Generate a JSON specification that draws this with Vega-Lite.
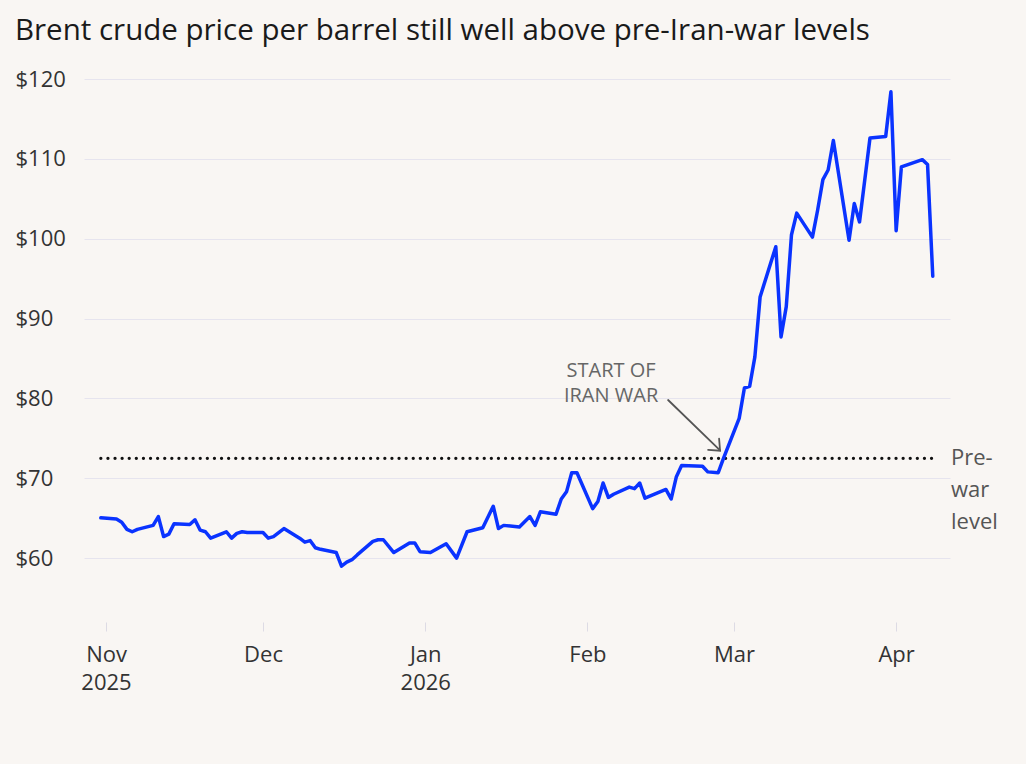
{
  "$schema": "https://vega.github.io/schema/vega-lite/v6.json",
  "autosize": {"type": "none"},
  "width": 866,
  "height": 543,
  "padding": {"left": 84, "top": 79, "right": 76, "bottom": 142},
  "background": "#f9f6f3",
  "title": {
    "text": "Brent crude price per barrel still well above pre-Iran-war levels",
    "anchor": "start",
    "frame": "group",
    "dx": -69,
    "offset": 22,
    "font": "Open Sans",
    "fontSize": 29.5,
    "fontWeight": 400,
    "color": "#1a1a1a"
  },
  "config": {
    "view": {"stroke": null},
    "axis": {"labelFont": "Open Sans", "labelFontSize": 22, "labelColor": "#333333", "title": null}
  },
  "datasets": {
    "price": [
      {"date": "2025-10-31", "value": 65.05},
      {"date": "2025-11-03", "value": 64.9},
      {"date": "2025-11-04", "value": 64.5},
      {"date": "2025-11-05", "value": 63.6},
      {"date": "2025-11-06", "value": 63.3},
      {"date": "2025-11-07", "value": 63.6},
      {"date": "2025-11-10", "value": 64.1},
      {"date": "2025-11-11", "value": 65.2},
      {"date": "2025-11-12", "value": 62.7},
      {"date": "2025-11-13", "value": 63.0},
      {"date": "2025-11-14", "value": 64.3},
      {"date": "2025-11-17", "value": 64.2},
      {"date": "2025-11-18", "value": 64.8},
      {"date": "2025-11-19", "value": 63.5},
      {"date": "2025-11-20", "value": 63.3},
      {"date": "2025-11-21", "value": 62.5},
      {"date": "2025-11-24", "value": 63.3},
      {"date": "2025-11-25", "value": 62.5},
      {"date": "2025-11-26", "value": 63.1},
      {"date": "2025-11-27", "value": 63.3},
      {"date": "2025-11-28", "value": 63.2},
      {"date": "2025-12-01", "value": 63.2},
      {"date": "2025-12-02", "value": 62.5},
      {"date": "2025-12-03", "value": 62.7},
      {"date": "2025-12-04", "value": 63.2},
      {"date": "2025-12-05", "value": 63.7},
      {"date": "2025-12-08", "value": 62.5},
      {"date": "2025-12-09", "value": 62.0},
      {"date": "2025-12-10", "value": 62.2},
      {"date": "2025-12-11", "value": 61.3},
      {"date": "2025-12-12", "value": 61.1},
      {"date": "2025-12-15", "value": 60.7},
      {"date": "2025-12-16", "value": 59.0},
      {"date": "2025-12-17", "value": 59.5},
      {"date": "2025-12-18", "value": 59.8},
      {"date": "2025-12-19", "value": 60.4},
      {"date": "2025-12-22", "value": 62.1},
      {"date": "2025-12-23", "value": 62.3},
      {"date": "2025-12-24", "value": 62.3},
      {"date": "2025-12-26", "value": 60.7},
      {"date": "2025-12-29", "value": 61.9},
      {"date": "2025-12-30", "value": 61.9},
      {"date": "2025-12-31", "value": 60.8},
      {"date": "2026-01-02", "value": 60.7},
      {"date": "2026-01-05", "value": 61.8},
      {"date": "2026-01-07", "value": 60.0},
      {"date": "2026-01-09", "value": 63.3},
      {"date": "2026-01-12", "value": 63.8},
      {"date": "2026-01-14", "value": 66.5},
      {"date": "2026-01-15", "value": 63.7},
      {"date": "2026-01-16", "value": 64.1},
      {"date": "2026-01-19", "value": 63.9},
      {"date": "2026-01-21", "value": 65.2},
      {"date": "2026-01-22", "value": 64.1},
      {"date": "2026-01-23", "value": 65.8},
      {"date": "2026-01-26", "value": 65.5},
      {"date": "2026-01-27", "value": 67.4},
      {"date": "2026-01-28", "value": 68.3},
      {"date": "2026-01-29", "value": 70.7},
      {"date": "2026-01-30", "value": 70.7},
      {"date": "2026-02-02", "value": 66.2},
      {"date": "2026-02-03", "value": 67.1},
      {"date": "2026-02-04", "value": 69.4},
      {"date": "2026-02-05", "value": 67.6},
      {"date": "2026-02-06", "value": 68.0},
      {"date": "2026-02-09", "value": 68.9},
      {"date": "2026-02-10", "value": 68.7},
      {"date": "2026-02-11", "value": 69.4},
      {"date": "2026-02-12", "value": 67.5},
      {"date": "2026-02-16", "value": 68.6},
      {"date": "2026-02-17", "value": 67.4},
      {"date": "2026-02-18", "value": 70.2},
      {"date": "2026-02-19", "value": 71.6},
      {"date": "2026-02-23", "value": 71.5},
      {"date": "2026-02-24", "value": 70.8},
      {"date": "2026-02-26", "value": 70.7},
      {"date": "2026-02-27", "value": 72.5},
      {"date": "2026-03-02", "value": 77.5},
      {"date": "2026-03-03", "value": 81.3},
      {"date": "2026-03-04", "value": 81.5},
      {"date": "2026-03-05", "value": 85.2},
      {"date": "2026-03-06", "value": 92.7},
      {"date": "2026-03-09", "value": 99.0},
      {"date": "2026-03-10", "value": 87.7},
      {"date": "2026-03-11", "value": 91.5},
      {"date": "2026-03-12", "value": 100.5},
      {"date": "2026-03-13", "value": 103.2},
      {"date": "2026-03-16", "value": 100.2},
      {"date": "2026-03-17", "value": 103.6},
      {"date": "2026-03-18", "value": 107.4},
      {"date": "2026-03-19", "value": 108.6},
      {"date": "2026-03-20", "value": 112.3},
      {"date": "2026-03-23", "value": 99.8},
      {"date": "2026-03-24", "value": 104.4},
      {"date": "2026-03-25", "value": 102.1},
      {"date": "2026-03-27", "value": 112.6},
      {"date": "2026-03-30", "value": 112.8},
      {"date": "2026-03-31", "value": 118.4},
      {"date": "2026-04-01", "value": 101.0},
      {"date": "2026-04-02", "value": 109.0},
      {"date": "2026-04-06", "value": 109.9},
      {"date": "2026-04-07", "value": 109.3},
      {"date": "2026-04-08", "value": 95.3}
    ],
    "prewar": [
      {"date": "2025-10-31", "date2": "2026-04-08", "value": 72.5}
    ],
    "arrow": [
      {"seg": "shaft", "i": 1, "date": "2026-02-16T10:00:00Z", "value": 79.8},
      {"seg": "shaft", "i": 2, "date": "2026-02-26T08:24:00Z", "value": 73.5},
      {"seg": "head", "i": 1, "date": "2026-02-24T01:30:00Z", "value": 73.55},
      {"seg": "head", "i": 2, "date": "2026-02-26T08:24:00Z", "value": 73.45},
      {"seg": "head", "i": 3, "date": "2026-02-26T04:00:00Z", "value": 74.95}
    ],
    "notes": [
      {"date": "2026-02-05T12:30:00Z", "value": 83.4, "label": "START OF\nIRAN WAR"}
    ],
    "side": [
      {"date": "2026-04-11T07:00:00Z", "value": 72.5, "label": "Pre-\nwar\nlevel"}
    ]
  },
  "layer": [
    {
      "data": {"name": "prewar"},
      "mark": {"type": "rule", "color": "#111111", "strokeWidth": 3.2, "strokeDash": [0.1, 7], "strokeCap": "round"},
      "encoding": {
        "x": {
          "field": "date",
          "type": "temporal",
          "scale": {"type": "utc", "domain": ["2025-10-27T19:00:00Z", "2026-04-11T07:00:00Z"]},
          "axis": {
            "values": [
              {"year": 2025, "month": 11, "date": 1, "utc": true},
              {"year": 2025, "month": 12, "date": 1, "utc": true},
              {"year": 2026, "month": 1, "date": 1, "utc": true},
              {"year": 2026, "month": 2, "date": 1, "utc": true},
              {"year": 2026, "month": 3, "date": 1, "utc": true},
              {"year": 2026, "month": 4, "date": 1, "utc": true}
            ],
            "labelExpr": "utcFormat(datum.value, '%m') == '11' || utcFormat(datum.value, '%m') == '01' ? [utcFormat(datum.value, '%b'), utcFormat(datum.value, '%Y')] : utcFormat(datum.value, '%b')",
            "labelLineHeight": 28,
            "labelPadding": 13,
            "domain": false,
            "grid": false,
            "ticks": true,
            "tickSize": 9,
            "tickColor": "#dddbe4",
            "tickWidth": 1,
            "labelAlign": "center"
          }
        },
        "x2": {"field": "date2"},
        "y": {
          "field": "value",
          "type": "quantitative",
          "scale": {"domain": [52, 120], "nice": false, "zero": false},
          "axis": {
            "values": [60, 70, 80, 90, 100, 110, 120],
            "labelExpr": "'$' + datum.value",
            "domain": false,
            "ticks": false,
            "grid": true,
            "gridColor": "#e6e4ee",
            "gridWidth": 1,
            "labelAlign": "left",
            "labelPadding": 69,
            "labelBaseline": "middle"
          }
        }
      }
    },
    {
      "data": {"name": "price"},
      "mark": {"type": "line", "color": "#0a33ff", "strokeWidth": 3.5, "strokeJoin": "round", "strokeCap": "round"},
      "encoding": {
        "x": {"field": "date", "type": "temporal"},
        "y": {"field": "value", "type": "quantitative"}
      }
    },
    {
      "data": {"name": "arrow"},
      "mark": {"type": "line", "color": "#555555", "strokeWidth": 1.8, "strokeCap": "round", "strokeJoin": "miter"},
      "encoding": {
        "x": {"field": "date", "type": "temporal"},
        "y": {"field": "value", "type": "quantitative"},
        "detail": {"field": "seg"},
        "order": {"field": "i"}
      }
    },
    {
      "data": {"name": "notes"},
      "mark": {"type": "text", "font": "Open Sans", "fontSize": 20, "color": "#666666", "align": "center", "baseline": "middle", "lineBreak": "\n", "lineHeight": 25},
      "encoding": {
        "x": {"field": "date", "type": "temporal"},
        "y": {"field": "value", "type": "quantitative"},
        "text": {"field": "label"}
      }
    },
    {
      "data": {"name": "side"},
      "mark": {"type": "text", "font": "Open Sans", "fontSize": 22, "color": "#555555", "align": "left", "baseline": "middle", "dx": 1, "lineBreak": "\n", "lineHeight": 32},
      "encoding": {
        "x": {"field": "date", "type": "temporal"},
        "y": {"field": "value", "type": "quantitative"},
        "text": {"field": "label"}
      }
    }
  ]
}
